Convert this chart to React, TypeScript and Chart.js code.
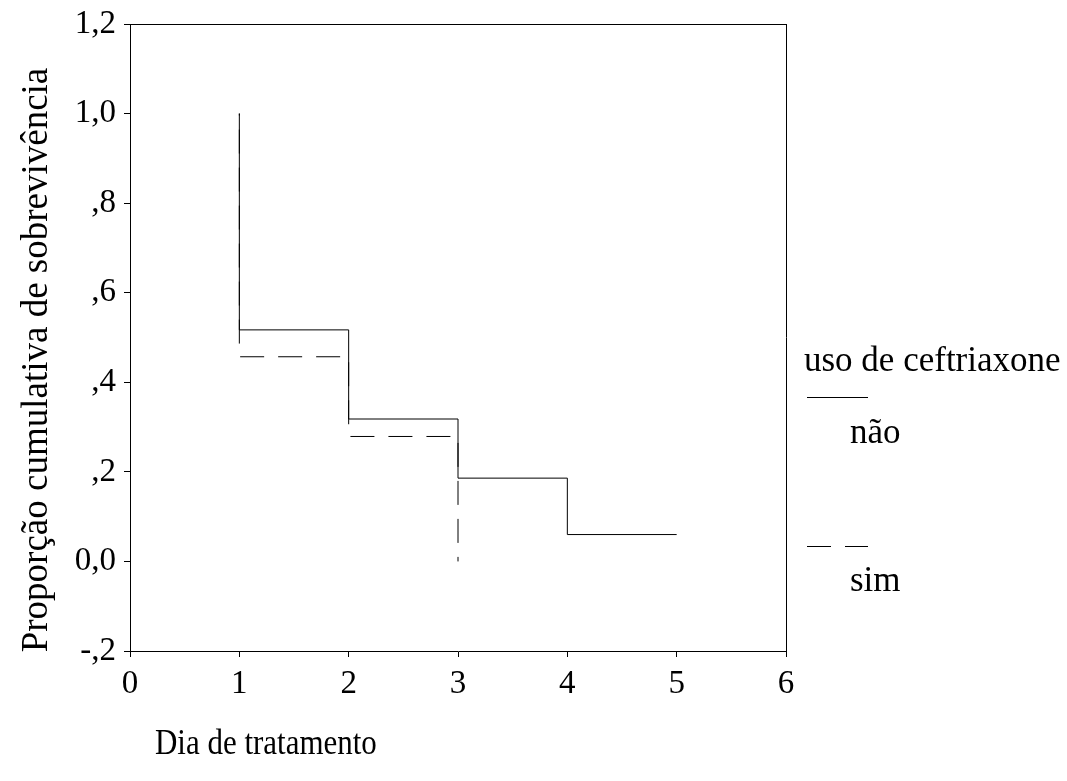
import React, { useEffect, useRef } from "react";
import { Chart, registerables } from "chart.js";

Chart.register(...registerables);

// ---- data ----
const naoTimes = [1, 1, 2, 3, 4, 5];
const naoSurvival = [1.0, 0.517, 0.318, 0.186, 0.06, 0.06];
const simTimes = [1, 1, 2, 3];
const simSurvival = [1.0, 0.457, 0.279, 0.0];
const seriesLabels = ["não", "sim"];
const xTickValues = [0, 1, 2, 3, 4, 5, 6];
const yTickValues = [-0.2, 0, 0.2, 0.4, 0.6, 0.8, 1.0, 1.2];
const yTickLabels = ["-,2", "0,0", ",2", ",4", ",6", ",8", "1,0", "1,2"];
const legendTitle = "uso de ceftriaxone";
const xTitle = "Dia de tratamento";
const yTitle = "Proporção cumulativa de sobrevivência";

const FONT = "'Liberation Serif', 'Times New Roman', serif";
const W = 1067;
const H = 781;

const overlayPlugin = {
  id: "overlay",
  afterDraw(chart: any) {
    const ctx = chart.ctx as CanvasRenderingContext2D;
    const a = chart.chartArea;
    ctx.save();
    // box
    ctx.strokeStyle = "#000";
    ctx.lineWidth = 1;
    ctx.beginPath();
    ctx.moveTo(a.left, Math.round(a.top) + 0.5);
    ctx.lineTo(a.right, Math.round(a.top) + 0.5);
    ctx.moveTo(Math.round(a.right) + 0.5, a.top);
    ctx.lineTo(Math.round(a.right) + 0.5, a.bottom);
    ctx.stroke();

    ctx.fillStyle = "#000";
    // y title
    ctx.save();
    ctx.translate(37, 360);
    ctx.rotate(-Math.PI / 2);
    ctx.font = `37px ${FONT}`;
    ctx.textAlign = "center";
    ctx.textBaseline = "middle";
    ctx.fillText(yTitle, 0, 0);
    ctx.restore();

    // x title (slightly condensed, as in the reference)
    ctx.save();
    ctx.translate(155, 745);
    ctx.scale(0.86, 1);
    ctx.font = `36px ${FONT}`;
    ctx.textAlign = "left";
    ctx.textBaseline = "middle";
    ctx.fillText(xTitle, 0, 0);
    ctx.restore();

    // legend
    ctx.font = `35px ${FONT}`;
    ctx.textAlign = "left";
    ctx.textBaseline = "middle";
    ctx.fillText(legendTitle, 804, 362);
    ctx.beginPath();
    ctx.moveTo(807, 397.5);
    ctx.lineTo(868, 397.5);
    ctx.stroke();
    ctx.fillText(seriesLabels[0], 850, 434);
    ctx.beginPath();
    ctx.moveTo(807, 546.5);
    ctx.lineTo(831, 546.5);
    ctx.moveTo(845, 546.5);
    ctx.lineTo(868, 546.5);
    ctx.stroke();
    ctx.fillText(seriesLabels[1], 850, 582);
    ctx.restore();
  },
};

export default function App() {
  const ref = useRef<HTMLCanvasElement | null>(null);
  useEffect(() => {
    if (!ref.current) return;
    const chart = new Chart(ref.current, {
      type: "line",
      data: {
        datasets: [
          {
            label: seriesLabels[0],
            data: naoTimes.map((t, i) => ({ x: t, y: naoSurvival[i] })),
            borderColor: "#000",
            borderWidth: 1,
            pointRadius: 0,
            stepped: "before",
            fill: false,
          },
          {
            label: seriesLabels[1],
            data: simTimes.map((t, i) => ({ x: t, y: simSurvival[i] })),
            borderColor: "#000",
            borderWidth: 1,
            borderDash: [24, 14],
            borderDashOffset: 22,
            pointRadius: 0,
            stepped: "before",
            fill: false,
          },
        ],
      },
      options: {
        animation: false,
        responsive: false,
        layout: { padding: { top: 24, right: W - 786, left: 0, bottom: 0 } },
        plugins: { legend: { display: false }, tooltip: { enabled: false } },
        scales: {
          x: {
            type: "linear",
            min: 0,
            max: 6,
            afterFit: (s: any) => {
              s.height = H - 651;
              s.paddingLeft = 0;
              s.paddingRight = 0;
            },
            afterBuildTicks: (s: any) => {
              s.ticks = xTickValues.map((v) => ({ value: v }));
            },
            ticks: {
              color: "#000",
              padding: 8,
              font: { family: FONT, size: 33 },
              callback: (v: any) => String(v),
              maxRotation: 0,
            },
            grid: { drawOnChartArea: false, drawTicks: true, tickLength: 6, color: "#000" },
            border: { display: true, color: "#000", width: 1 },
          },
          y: {
            type: "linear",
            min: -0.2,
            max: 1.2,
            afterFit: (s: any) => {
              s.width = 130;
              s.paddingTop = 0;
              s.paddingBottom = 0;
            },
            afterBuildTicks: (s: any) => {
              s.ticks = yTickValues.map((v) => ({ value: v }));
            },
            ticks: {
              color: "#000",
              padding: 8,
              font: { family: FONT, size: 33 },
              callback: (_v: any, i: number) => yTickLabels[i],
            },
            grid: { drawOnChartArea: false, drawTicks: true, tickLength: 6, color: "#000" },
            border: { display: true, color: "#000", width: 1 },
          },
        },
      },
      plugins: [overlayPlugin],
    });
    return () => chart.destroy();
  }, []);
  return (
    <div style={{ position: "absolute", left: 0, top: 0, width: W, height: H, background: "#fff" }}>
      <canvas ref={ref} width={W} height={H} style={{ display: "block", width: W, height: H }} />
    </div>
  );
}
